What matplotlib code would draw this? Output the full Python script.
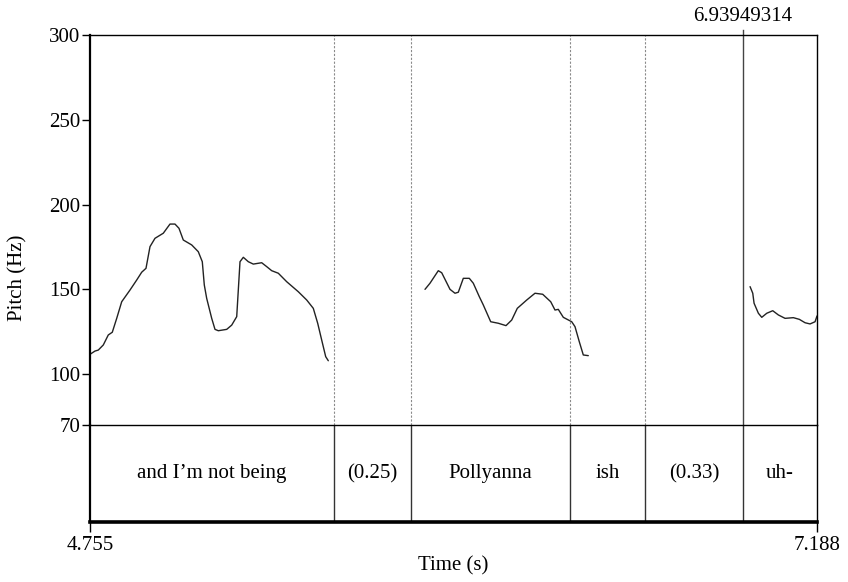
import matplotlib
matplotlib.use("Agg")
import matplotlib.pyplot as plt

plt.rcParams['font.family'] = ['Liberation Serif', 'DejaVu Serif']

# ---- data ----
t_start, t_end = 4.755, 7.188
f_min, f_max = 70, 300
y_ticks = [70, 100, 150, 200, 250, 300]

seg1_t = [4.7550, 4.7717, 4.7828, 4.7995, 4.8162, 4.8296, 4.8444, 4.8611, 4.8889, 4.9113,
          4.9280, 4.9424, 4.9558, 4.9725, 5.0003, 5.0227, 5.0394, 5.0528, 5.0672, 5.0953,
          5.1174, 5.1308, 5.1375, 5.1455, 5.1623, 5.1733, 5.1844, 5.2125, 5.2292, 5.2460,
          5.2570, 5.2681, 5.2848, 5.3015, 5.3296, 5.3463, 5.3631, 5.3852, 5.4133, 5.4521,
          5.4803, 5.5023, 5.5170, 5.5304, 5.5438, 5.5525]
seg1_f = [111.7, 113.6, 114.2, 117.2, 123.1, 124.7, 132.9, 142.7, 149.6, 155.5,
          160.1, 162.4, 175.2, 180.1, 183.1, 188.5, 188.5, 186.0, 179.1, 176.2,
          172.2, 166.3, 152.6, 144.7, 132.9, 126.4, 125.6, 126.4, 128.9, 133.9,
          166.3, 168.9, 166.3, 164.9, 165.7, 163.4, 161.0, 159.5, 154.5, 148.6,
          143.7, 138.8, 130.0, 120.1, 110.3, 107.9]

seg2_t = [5.8761, 5.8928, 5.9206, 5.9320, 5.9598, 5.9765, 5.9876, 6.0043, 6.0244, 6.0378,
          6.0578, 6.0712, 6.0960, 6.1215, 6.1472, 6.1663, 6.1850, 6.2165, 6.2442, 6.2700,
          6.2968, 6.3112, 6.3222, 6.3390, 6.3671, 6.3781, 6.3925, 6.4059, 6.4226]
seg2_f = [150.0, 153.6, 161.0, 159.8, 150.0, 147.7, 148.3, 156.5, 156.5, 153.6,
          145.7, 140.8, 130.9, 130.0, 128.6, 131.9, 138.8, 143.7, 147.7, 147.1,
          142.7, 137.8, 138.2, 133.5, 130.9, 128.0, 119.1, 111.3, 110.9]

seg3_t = [6.9640, 6.9730, 6.9774, 6.9918, 7.0031, 7.0199, 7.0399, 7.0587, 7.0811, 7.1089,
          7.1290, 7.1481, 7.1648, 7.1815, 7.188]
seg3_f = [151.6, 147.7, 141.8, 135.9, 133.5, 135.9, 137.4, 134.9, 132.9, 133.3,
          132.3, 130.3, 129.6, 130.9, 134.3]

boundaries = [5.5716, 5.8294, 6.3615, 6.6125, 6.93949314]
labels = ["and I\u2019m not being", "(0.25)", "Pollyanna", "ish", "(0.33)", "uh-"]
cursor = 6.93949314
cursor_label = "6.93949314"

# ---- figure ----
W, H = 848, 582
fig = plt.figure(figsize=(W / 100, H / 100), dpi=100)
L, R = 90 / W, 817 / W
top_p, bot_p, bot_t = 1 - 35 / H, 1 - 425 / H, 1 - 522 / H
ax2 = fig.add_axes([L, bot_t, R - L, bot_p - bot_t])
ax = fig.add_axes([L, bot_p, R - L, top_p - bot_p])
ax.patch.set_visible(False)

fs = 15
for st, sf in [(seg1_t, seg1_f), (seg2_t, seg2_f), (seg3_t, seg3_f)]:
    ax.plot(st, sf, color='#222222', lw=1.0, solid_joinstyle='round', solid_capstyle='round')

ax.set_xlim(t_start, t_end)
ax.set_ylim(f_min, f_max)
ax.set_yticks(y_ticks)
ax.set_yticklabels([str(v) for v in y_ticks], fontsize=fs)
ax.set_xticks([])
ax.tick_params(axis='y', direction='out', length=6, width=1, pad=1)
for s in ['top', 'right', 'bottom']:
    ax.spines[s].set_linewidth(1.0)
ax.spines['left'].set_linewidth(1.6)

for b in boundaries[:-1]:
    ax.axvline(b, color='#8a8a8a', lw=0.8, ls=(0, (2, 1.5)))
ax.plot([cursor, cursor], [0, 1.012], transform=ax.get_xaxis_transform(),
        color='#444444', lw=1.0, clip_on=False)
ax.text(cursor, 1.048, cursor_label, transform=ax.get_xaxis_transform(),
        ha='center', va='center', fontsize=fs)

# text tier
ax2.set_xlim(t_start, t_end)
ax2.set_ylim(0, 1)
ax2.set_yticks([])
ax2.set_xticks([t_start, t_end])
ax2.set_xticklabels([f"{t_start:.3f}", f"{t_end:.3f}"], fontsize=fs)
ax2.tick_params(axis='x', direction='out', length=7, width=1, pad=3)
ax2.spines['top'].set_visible(False)
ax2.spines['right'].set_linewidth(1.0)
ax2.spines['left'].set_linewidth(1.6)
ax2.spines['bottom'].set_linewidth(2.6)
for b in boundaries:
    ax2.axvline(b, color='#333333', lw=1.0)
edges = [t_start] + boundaries + [t_end]
for i, lab in enumerate(labels):
    ax2.text((edges[i] + edges[i + 1]) / 2, 0.5, lab, ha='center', va='center', fontsize=fs)

fig.text(18 / W, 1 - 278 / H, "Pitch (Hz)", rotation=90, ha='center', va='center', fontsize=fs)
fig.text((90 + 817) / 2 / W, 1 - 566 / H, "Time (s)", ha='center', va='center', fontsize=fs)

fig.savefig("out.png", dpi=100)
